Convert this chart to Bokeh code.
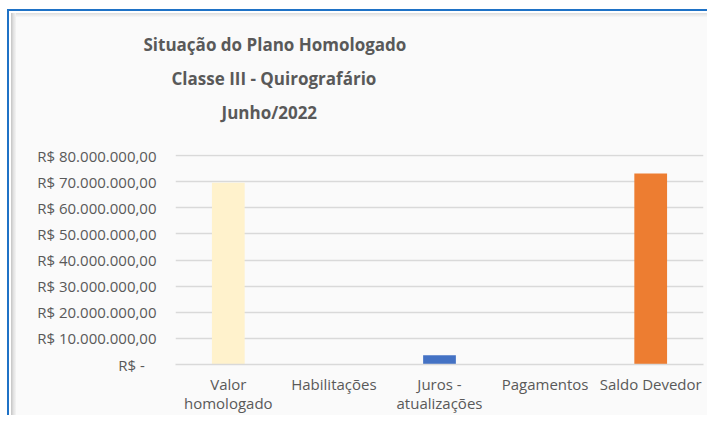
from bokeh.plotting import figure
from bokeh.models import ColumnDataSource, FactorRange, Range1d, FixedTicker, Title
from bokeh.embed import file_html
from bokeh.resources import INLINE

# ---- data ----
categories = ["Valor\nhomologado", "Habilitações", "Juros -\natualizações", "Pagamentos", "Saldo Devedor"]
values = [69.6e6, 0, 3.5e6, 0, 73.1e6]
y_ticks = [0, 10e6, 20e6, 30e6, 40e6, 50e6, 60e6, 70e6, 80e6]
y_tick_labels = ["R$ -\u00a0\u00a0\u00a0", "R$ 10.000.000,00", "R$ 20.000.000,00", "R$ 30.000.000,00",
                 "R$ 40.000.000,00", "R$ 50.000.000,00", "R$ 60.000.000,00", "R$ 70.000.000,00",
                 "R$ 80.000.000,00"]
title_lines = ["Situação do Plano Homologado", "Classe III - Quirografário", "Junho/2022"]

# ---- style ----
bar_colors = ["#FFF2CC", "#A5A5A5", "#4472C4", "#FFC000", "#ED7D31"]
TXT = "#595959"
GRID = "#D9D9D9"
BG = "#FAFAFA"
FONT = "Open Sans"

W, H = 707, 415
ML, MR, MT, MB = 175, 4, 154, 48

src = ColumnDataSource(dict(cat=categories, val=values, color=bar_colors))

p = figure(width=W, height=H, x_range=FactorRange(*categories, range_padding=0),
           y_range=Range1d(0, 80.4e6), output_backend="svg", toolbar_location=None,
           min_border_left=ML, min_border_right=MR, min_border_top=MT, min_border_bottom=MB)
p.title.visible = False

p.vbar(x="cat", top="val", width=0.31, color="color", source=src, line_color=None)

p.background_fill_color = BG
p.border_fill_alpha = 0
p.outline_line_color = None
# chart-area frame (blue border + soft grey inner shadow) drawn as the host background
p.styles = {
    "background": (
        "linear-gradient(#1F72C6,#1F72C6) 7px 9px / 100% 2px no-repeat, "
        "linear-gradient(#1F72C6,#1F72C6) 7px 9px / 2px 100% no-repeat, "
        "linear-gradient(to right,#C4C4C4,#E2E2E2,#F4F4F4) 11px 13px / 5px 100% no-repeat, "
        "linear-gradient(#DCDCDC,#EBEBEB,#F6F6F6) 11px 13px / 100% 4px no-repeat, "
        "linear-gradient(#FAFAFA,#FAFAFA) 16px 17px / 100% 100% no-repeat, "
        "linear-gradient(#FFFFFF,#FFFFFF) 9px 11px / 100% 100% no-repeat, "
        "#FFFFFF"
    )
}

p.xgrid.grid_line_color = None
p.ygrid.grid_line_color = GRID
p.ygrid.grid_line_width = 1.5

p.yaxis.ticker = FixedTicker(ticks=y_ticks)
p.yaxis.major_label_overrides = {int(t): s for t, s in zip(y_ticks, y_tick_labels)}
p.yaxis.axis_line_color = None
p.yaxis.major_tick_line_color = None
p.yaxis.minor_tick_line_color = None
p.yaxis.major_tick_out = 0
p.yaxis.major_tick_in = 0
p.yaxis.major_label_standoff = 19
p.yaxis.major_label_text_font = FONT
p.yaxis.major_label_text_font_size = "15px"
p.yaxis.major_label_text_color = TXT

p.xaxis.axis_line_color = GRID
p.xaxis.axis_line_width = 1.5
p.xaxis.major_tick_line_color = None
p.xaxis.minor_tick_line_color = None
p.xaxis.major_tick_out = 0
p.xaxis.major_tick_in = 0
p.xaxis.major_label_standoff = 9
p.xaxis.major_label_text_font = FONT
p.xaxis.major_label_text_font_size = "15px"
p.xaxis.major_label_text_color = TXT
p.xaxis.major_label_text_line_height = 0.95

# titles: innermost first (spacer, line3, line2, line1)
p.add_layout(Title(text="\u00a0", standoff=23, text_font_size="1px"), "above")
offsets = [-32, -4, 46]
for txt, off in reversed(list(zip(title_lines, offsets))):
    p.add_layout(Title(text=txt, align="left", offset=off, standoff=9, text_font=FONT,
                       text_font_style="bold", text_font_size="17px", text_color=TXT), "above")

open("out.html", "w").write(file_html(p, INLINE))
